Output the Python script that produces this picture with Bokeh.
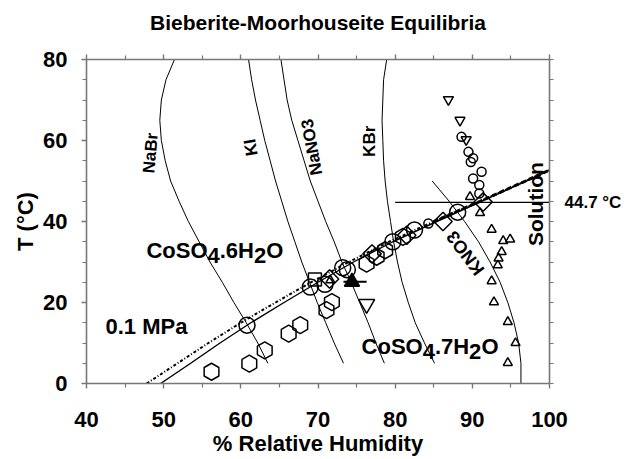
import numpy as np
from bokeh.plotting import figure
from bokeh.models import Label, LinearAxis, FixedTicker
from bokeh.embed import file_html
from bokeh.resources import INLINE

TITLE = "Bieberite-Moorhouseite Equilibria"

# ---- salt deliquescence curves (T in degC, RH in %) ----
salt_T = [5, 10, 15, 20, 25, 30, 35, 40, 45, 50, 55, 60, 65, 70, 75, 80]
nabr_rh = [63.5, 62.2, 60.7, 59.1, 57.6, 56.0, 54.6, 53.2, 52.0, 50.9, 50.2, 49.7, 49.5, 49.7, 50.3, 51.4]
ki_rh = [73.3, 72.1, 71.0, 69.9, 68.9, 67.9, 67.0, 66.1, 65.3, 64.5, 63.8, 63.1, 62.5, 61.9, 61.4, 61.0]
nano3_rh = [78.6, 77.5, 76.5, 75.4, 74.3, 73.1, 72.1, 71.0, 70.0, 69.0, 68.2, 67.4, 66.6, 66.0, 65.6, 65.2]
kbr_rh = [85.1, 83.8, 82.6, 81.7, 80.9, 80.3, 79.8, 79.4, 79.0, 78.7, 78.5, 78.4, 78.3, 78.4, 78.5, 78.9]
kno3_T = [0, 5, 10, 15, 20, 25, 30, 35, 40, 45, 50]
kno3_rh = [96.3, 96.3, 96.0, 95.4, 94.6, 93.6, 92.3, 90.8, 89.0, 87.0, 84.8]

# ---- equilibrium lines ----
eq_T = [0, 5, 10, 15, 20, 25, 30, 35, 40, 45, 50, 52.7]
eq_solid_rh = [49.6, 53.5, 57.3, 61.3, 65.6, 70.0, 74.6, 79.7, 85.4, 91.2, 97.0, 100.0]
eq_dotted_rh = [47.8, 51.8, 55.8, 60.0, 64.5, 69.1, 74.0, 79.2, 85.0, 91.0, 96.9, 100.0]
eq_heavy_from = 8  # index where the heavy dashed extension starts

# 44.7 degC line
hline_rh = [80, 100]
hline_T = [44.7, 44.7]
invariant_T = [44.7]
invariant_label = "44.7 °C"

# ---- measured points ----
hex_rh = [56.2, 61.1, 63.1, 66.2, 67.7, 71.1, 71.8, 76.3, 77.6, 78.7, 81.0]
hex_T = [2.9, 4.9, 8.2, 12.3, 14.4, 18.1, 20.1, 29.6, 31.3, 32.9, 36.2]

bigcirc_rh = [60.8, 69.0, 70.9, 73.2, 73.8, 79.7, 82.5, 88.1]
bigcirc_T = [14.4, 23.8, 24.5, 28.6, 28.1, 35.0, 37.9, 42.3]

diam_rh = [71.5, 77.0, 81.5, 86.2, 91.4]
diam_T = [25.8, 32.0, 36.6, 40.0, 44.8]

sq_rh = [69.6]
sq_T = [25.7]

smcirc_rh = [88.6, 89.5, 90.1, 89.8, 91.2, 90.1, 90.9, 90.9, 84.3]
smcirc_T = [60.9, 57.2, 55.6, 54.7, 52.3, 50.6, 49.0, 46.9, 39.5]

sminv_rh = [86.9, 88.4, 89.2]
sminv_T = [70.1, 65.0, 60.2]

biginv_rh = [76.3]
biginv_T = [19.6]

filled_rh = [74.4]
filled_T = [25.1]
filled_lo = [73.3]
filled_hi = [76.3]

smtri_rh = [91.0, 89.7, 92.5, 94.0, 94.9, 93.8, 93.4, 93.3, 92.5, 92.8, 94.6, 95.6, 94.6, 71.6]
smtri_T = [42.1, 46.1, 38.0, 35.2, 35.6, 32.5, 30.9, 29.2, 25.3, 20.1, 15.2, 10.0, 5.1, 25.5]

x_ticks = [40, 50, 60, 70, 80, 90, 100]
x_minor = [45, 55, 65, 75, 85, 95]
y_ticks = [0, 20, 40, 60, 80]
y_minor = [5, 10, 15, 25, 30, 35, 45, 50, 55, 65, 70, 75]
y_all = sorted(y_ticks + y_minor)

FONT = "Liberation Sans"
AX = "#777777"

p = figure(width=624, height=459, x_range=(40, 100), y_range=(0, 80),
           output_backend="svg", toolbar_location=None,
           min_border_left=86, min_border_right=74, min_border_top=59, min_border_bottom=76)
p.grid.visible = False
p.outline_line_color = None
p.background_fill_color = "white"
p.border_fill_color = "white"

xax = p.below[0]
yax = p.left[0]
xax.ticker = FixedTicker(ticks=x_ticks, minor_ticks=x_minor)
yax.ticker = FixedTicker(ticks=y_ticks, minor_ticks=y_minor)

# top axis: ticks only, carries the chart title
top = LinearAxis(ticker=FixedTicker(ticks=x_ticks, minor_ticks=x_minor))
top.major_label_overrides = {t: "" for t in x_ticks}
top.major_label_text_font_size = "0px"
top.major_label_standoff = 0
top.axis_label = TITLE
top.axis_label_text_font = FONT
top.axis_label_text_font_style = "bold"
top.axis_label_text_font_size = "21px"
top.axis_label_text_color = "black"
top.axis_label_standoff = 21
p.add_layout(top, "above")

# right axis: carries the 44.7 degC label
right = LinearAxis(ticker=FixedTicker(ticks=invariant_T, minor_ticks=y_all))
right.major_label_overrides = {invariant_T[0]: invariant_label}
right.major_label_text_font = FONT
right.major_label_text_font_style = "bold"
right.major_label_text_font_size = "17px"
right.major_label_text_color = "black"
right.major_label_standoff = 11
p.add_layout(right, "right")

for ax in (xax, yax, top, right):
    ax.axis_line_color = AX
    ax.axis_line_width = 1.6
    ax.major_tick_line_color = AX
    ax.minor_tick_line_color = AX
    ax.major_tick_line_width = 1.4
    ax.minor_tick_line_width = 1.2
    ax.major_tick_in = 0
    ax.minor_tick_in = 0
    ax.major_tick_out = 5
    ax.minor_tick_out = 4
right.major_tick_out = 0

for ax in (xax, yax):
    ax.major_label_text_font = FONT
    ax.major_label_text_font_style = "bold"
    ax.major_label_text_font_size = "22px"
    ax.major_label_text_color = "black"
    ax.axis_label_text_font = FONT
    ax.axis_label_text_font_style = "bold"
    ax.axis_label_text_font_size = "22px"
    ax.axis_label_text_color = "black"
xax.major_label_standoff = 23
yax.major_label_standoff = 14
xax.axis_label = "% Relative Humidity"
xax.axis_label_standoff = 1
yax.axis_label = "T (°C)"
yax.axis_label_standoff = 2

# salt curves
for rh in (nabr_rh, ki_rh, nano3_rh, kbr_rh):
    p.line(rh, salt_T, line_color="black", line_width=1)
p.line(kno3_rh, kno3_T, line_color="black", line_width=1)
p.line(hline_rh, hline_T, line_color="black", line_width=1.2)

# equilibrium lines
p.line(eq_solid_rh, eq_T, line_color="black", line_width=1.4)
p.line(eq_dotted_rh, eq_T, line_color="black", line_width=2.0, line_dash="3 2 1 2")
p.line(eq_dotted_rh[eq_heavy_from:], eq_T[eq_heavy_from:], line_color="black",
       line_width=3.0, line_dash="5 3")

# markers
mk = dict(line_color="black", line_width=1.5, fill_color=None)
p.scatter(hex_rh, hex_T, marker="hex", size=17, angle=np.pi / 6, **mk)
p.scatter(bigcirc_rh, bigcirc_T, marker="circle", size=16, **mk)
p.scatter(diam_rh, diam_T, marker="square", size=13, angle=np.pi / 4, **mk)
p.scatter(sq_rh, sq_T, marker="square", size=13, **mk)
p.scatter(smcirc_rh, smcirc_T, marker="circle", size=9, **mk)
p.scatter(sminv_rh, sminv_T, marker="inverted_triangle", size=10, **mk)
p.scatter(biginv_rh, biginv_T, marker="inverted_triangle", size=16, **mk)
p.scatter(smtri_rh, smtri_T, marker="triangle", size=9, **mk)
p.segment(filled_lo, filled_T, filled_hi, filled_T, line_color="black", line_width=2)
p.scatter(filled_rh, filled_T, marker="triangle", size=15, line_color="black",
          fill_color="black", line_width=1.5)

def lab(text, x, y, size, angle=0.0, align="center", baseline="middle", xo=0, yo=0):
    p.add_layout(Label(x=x, y=y, text=text, text_font=FONT, text_font_style="bold",
                       text_font_size=size, text_color="black", angle=angle,
                       text_align=align, text_baseline=baseline, x_offset=xo, y_offset=yo))

# salt names
lab("NaBr", 48.3, 56.9, "17px", angle=np.radians(85))
lab("KI", 61.3, 58.3, "17px", angle=np.radians(100))
lab("NaNO3", 69.2, 58.4, "17px", angle=np.radians(100))
lab("KBr", 76.7, 59.8, "17px", angle=np.radians(90))
lab("KNO3", 89.1, 32.2, "18px", angle=np.radians(127))
lab("Solution", 98.2, 44.3, "21px", angle=np.radians(90))
lab("0.1 MPa", 42.46, 14.15, "22px", align="left", baseline="alphabetic")

# hydrate names with subscripts
def hydrate(n, x, y):
    pieces = [("CoSO", 0.0, 0), ("4", 61.1, -5), ("." + n + "H", 73.3, 0), ("2", 107.5, -5), ("O", 119.8, 0)]
    for t, xo, yo in pieces:
        lab(t, x, y, "22px", align="left", baseline="alphabetic", xo=xo, yo=yo)

hydrate("6", 47.76, 32.9)
hydrate("7", 75.65, 9.2)

open("out.html", "w").write(file_html(p, INLINE))
